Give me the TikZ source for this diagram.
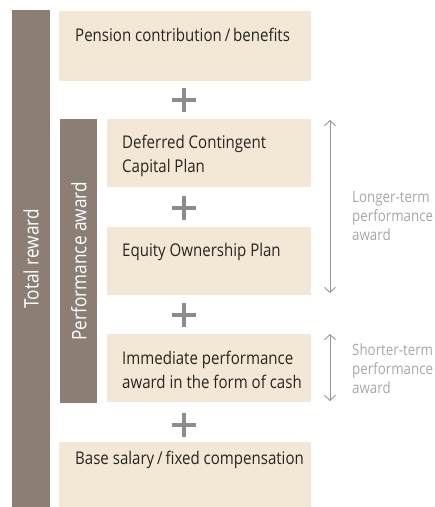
\documentclass[tikz,border=0pt]{standalone}
\usepackage{fontspec}
\setmainfont{Open Sans}[FakeStretch=0.86]
\usetikzlibrary{arrows.meta}
\definecolor{boxfill}{RGB}{243,232,214}
\definecolor{barfill}{RGB}{140,126,117}
\definecolor{plusgray}{RGB}{140,140,140}
\definecolor{sidegray}{RGB}{168,168,168}
\definecolor{arrowgray}{RGB}{150,150,150}
\definecolor{textdark}{RGB}{40,36,32}
\begin{document}
\begin{tikzpicture}[x=1pt,y=-1pt,
  boxstyle/.style={fill=boxfill, draw=none, inner sep=0pt, anchor=north west},
  barstyle/.style={fill=barfill, draw=none, inner sep=0pt, anchor=north west},
  barlabel/.style={rotate=90, text=white, font=\fontsize{20}{24}\selectfont},
  boxtext/.style={anchor=north west, inner sep=0pt, align=left, text=textdark, font=\fontsize{17.5}{23.5}\selectfont},
  sidetext/.style={anchor=north west, inner sep=0pt, align=left, text=sidegray, font=\fontsize{15.5}{19}\selectfont},
  plussign/.style={minimum size=24pt, inner sep=0pt},
  plusline/.style={draw=plusgray, line width=3.5pt},
  spanarrow/.style={draw=arrowgray, line width=0.9pt, {Straight Barb[length=5pt,width=11pt]}-{Straight Barb[length=5pt,width=11pt]}}
]
\useasboundingbox (0,0) rectangle (435,507);
\fill[white] (0,0) rectangle (435,507);

% bars
\node[barstyle, minimum width=38pt, minimum height=497pt] (total) at (12,10) {};
\node[barlabel] (totallabel) at (total.center) {Total reward};
\node[barstyle, minimum width=37pt, minimum height=284pt] (perf) at (60,119) {};
\node[barlabel] (perflabel) at (perf.center) {Performance award};

% boxes
\node[boxstyle, minimum width=252pt, minimum height=70pt] (pension) at (59,11) {};
\node[boxstyle, minimum width=204pt, minimum height=68pt] (deferred) at (107,119) {};
\node[boxstyle, minimum width=204pt, minimum height=68pt] (equity) at (107,227) {};
\node[boxstyle, minimum width=204pt, minimum height=68pt] (immediate) at (107,334) {};
\node[boxstyle, minimum width=252pt, minimum height=65pt] (base) at (59,442) {};

% box texts
\node[boxtext] (pensiontext) at (75,28) {Pension contribution\,/\,benefits};
\node[boxtext] (deferredtext) at (122,135) {Deferred Contingent\\Capital Plan};
\node[boxtext] (equitytext) at (122,243) {Equity Ownership Plan};
\node[boxtext] (immediatetext) at (122,351) {Immediate performance\\award in the form of cash};
\node[boxtext] (basetext) at (75,451) {Base salary\,/\,fixed compensation};

% plus signs
\foreach \n/\yy in {plusa/100, plusb/208, plusc/315, plusd/425}{
  \node[plussign] (\n) at (184,\yy) {};
  \draw[plusline] (\n.west) -- (\n.east) (\n.north) -- (\n.south);
}

% span arrows
\coordinate (longtop) at (330,120);
\coordinate (longbot) at (330,293);
\coordinate (shorttop) at (330,334);
\coordinate (shortbot) at (330,401);
\draw[spanarrow] (longtop) -- (longbot);
\draw[spanarrow] (shorttop) -- (shortbot);

\node[sidetext] (longtext) at (352,191) {Longer-term\\performance\\award};
\node[sidetext] (shorttext) at (352,344) {Shorter-term\\performance\\award};
\end{tikzpicture}
\end{document}
